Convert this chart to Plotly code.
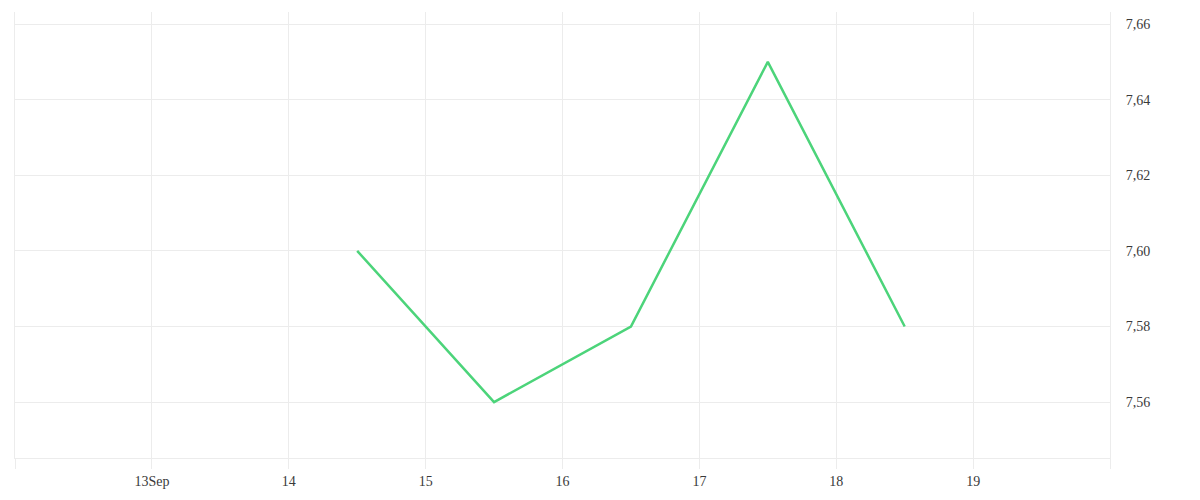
import plotly.graph_objects as go

# data
dates = ["2023-09-14 12:00", "2023-09-15 12:00", "2023-09-16 12:00",
         "2023-09-17 12:00", "2023-09-18 12:00"]
values = [7.60, 7.56, 7.58, 7.65, 7.58]

tick_dates = ["2023-09-12", "2023-09-13", "2023-09-14", "2023-09-15", "2023-09-16",
              "2023-09-17", "2023-09-18", "2023-09-19", "2023-09-20"]
tick_text = ["", "13Sep", "14", "15", "16", "17", "18", "19", ""]

GRID = "#ececec"

fig = go.Figure(go.Scatter(
    x=dates, y=values, mode="lines",
    line=dict(color="#4cd47a", width=2.5),
    hoverinfo="x+y",
))

# page body has an 8px margin, so offsets are compensated here
fig.update_layout(
    width=1200, height=500,
    margin=dict(l=7, r=98, t=4, b=50),
    paper_bgcolor="white", plot_bgcolor="white",
    separators=",.",
    showlegend=False,
    font=dict(family="Liberation Serif", size=14, color="#3a3a3a"),
)

fig.update_xaxes(
    type="date",
    range=["2023-09-12", "2023-09-20"],
    tickmode="array", tickvals=tick_dates, ticktext=tick_text,
    showgrid=True, gridcolor=GRID, gridwidth=1,
    ticks="outside", ticklen=10, tickcolor=GRID,
    showline=True, linecolor=GRID, linewidth=1,
    zeroline=False, automargin=False,
)

fig.update_yaxes(
    side="right",
    range=[7.5452, 7.6632],
    dtick=0.02, tick0=7.56, tickformat=".2f",
    showgrid=True, gridcolor=GRID, gridwidth=1,
    ticks="", ticklabelstandoff=12,
    showline=True, mirror=True, linecolor=GRID, linewidth=1,
    zeroline=False, automargin=False,
)

fig.write_html("out.html")
